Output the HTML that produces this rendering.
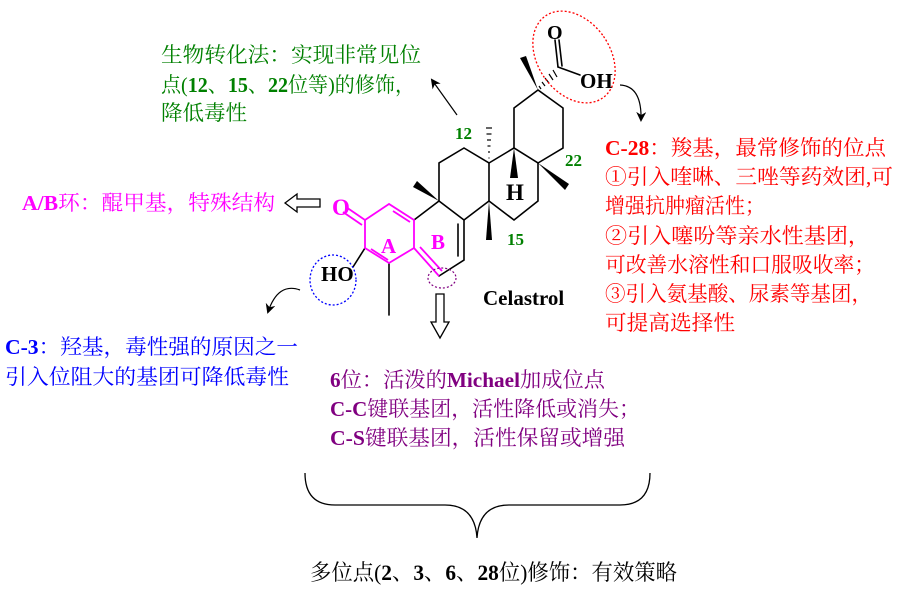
<!DOCTYPE html>
<html><head><meta charset="utf-8"><style>
html,body{margin:0;padding:0;background:#fff;width:900px;height:600px;overflow:hidden}
svg{display:block}
text{font-family:"Liberation Serif","Noto Serif CJK SC",serif}
.m{font-size:21px}
.b{font-weight:bold}
</style></head><body>
<svg width="900" height="600" viewBox="0 0 900 600" xmlns="http://www.w3.org/2000/svg">
<defs>
<marker id="ar" markerWidth="10" markerHeight="10" refX="8" refY="5" orient="auto" markerUnits="userSpaceOnUse"><path d="M0,0 L10,5 L0,10 L3,5 Z" fill="#000"/></marker>
</defs>
<g fill="#008000" class="m">
<text x="161" y="62" textLength="260" lengthAdjust="spacingAndGlyphs">生物转化法：实现非常见位</text>
<text x="161" y="92" textLength="254" lengthAdjust="spacingAndGlyphs">点(<tspan class="b">12</tspan>、<tspan class="b">15</tspan>、<tspan class="b">22</tspan>位等)的修饰，</text>
<text x="161" y="120" textLength="86" lengthAdjust="spacingAndGlyphs">降低毒性</text>
</g>
<line x1="457" y1="115" x2="432" y2="80" stroke="#000" stroke-width="1.2" marker-end="url(#ar)"/>
<text class="m" x="22" y="210" fill="#ff00ff" textLength="253" lengthAdjust="spacingAndGlyphs"><tspan class="b">A/B</tspan>环：醌甲基，特殊结构</text>
<path d="M285,203 L297,194 L297,199 L320,199 L320,207 L297,207 L297,212 Z" fill="#fff" stroke="#000" stroke-width="1.3"/>
<g fill="#0000ff" class="m">
<text x="5" y="354" textLength="293" lengthAdjust="spacingAndGlyphs"><tspan class="b">C-3</tspan>：羟基，毒性强的原因之一</text>
<text x="5" y="384" textLength="284" lengthAdjust="spacingAndGlyphs">引入位阻大的基团可降低毒性</text>
</g>
<path d="M300,290 Q278,282 268,312" fill="none" stroke="#000" stroke-width="1.2" marker-end="url(#ar)"/>
<g fill="#800080" class="m">
<text x="330" y="387" textLength="275" lengthAdjust="spacingAndGlyphs"><tspan class="b">6</tspan>位：活泼的<tspan class="b">Michael</tspan>加成位点</text>
<text x="330" y="416" textLength="310" lengthAdjust="spacingAndGlyphs"><tspan class="b">C-C</tspan>键联基团，活性降低或消失；</text>
<text x="330" y="445" textLength="295" lengthAdjust="spacingAndGlyphs"><tspan class="b">C-S</tspan>键联基团，活性保留或增强</text>
</g>
<path d="M436,294 L444,294 L444,322 L449,322 L440,338 L431,322 L436,322 Z" fill="#fff" stroke="#000" stroke-width="1.3"/>
<g fill="#ff0000" class="m">
<text x="605" y="155" textLength="281" lengthAdjust="spacingAndGlyphs"><tspan class="b">C-28</tspan>：羧基，最常修饰的位点</text>
<text x="605" y="184" textLength="288" lengthAdjust="spacingAndGlyphs">①引入喹啉、三唑等药效团,可</text>
<text x="605" y="213" textLength="160" lengthAdjust="spacingAndGlyphs">增强抗肿瘤活性；</text>
<text x="605" y="243" textLength="265" lengthAdjust="spacingAndGlyphs">②引入噻吩等亲水性基团，</text>
<text x="605" y="272" textLength="270" lengthAdjust="spacingAndGlyphs">可改善水溶性和口服吸收率；</text>
<text x="605" y="301" textLength="267" lengthAdjust="spacingAndGlyphs">③引入氨基酸、尿素等基团，</text>
<text x="605" y="330" textLength="130" lengthAdjust="spacingAndGlyphs">可提高选择性</text>
</g>
<path d="M620,85 Q642,86 641,120" fill="none" stroke="#000" stroke-width="1.2" marker-end="url(#ar)"/>
<path d="M305,473 Q305,505 335,505 L445,505 Q475,505 477,538 Q479,505 509,505 L620,505 Q650,505 650,473" fill="none" stroke="#000" stroke-width="1.3"/>
<text x="310" y="580" fill="#000" style="font-size:22px" textLength="367" lengthAdjust="spacingAndGlyphs">多位点(<tspan class="b">2</tspan>、<tspan class="b">3</tspan>、<tspan class="b">6</tspan>、<tspan class="b">28</tspan>位)修饰：有效策略</text>
<g stroke="#000" stroke-width="1.6" fill="none" stroke-linecap="round">
<path d="M414,220 L439,201 L464,220 L464,260 L439,276"/>
<line x1="458" y1="224" x2="458" y2="256"/>
<path d="M439,201 L439,163 L464,148 L489,163 L489,201 L464,220"/>
<path d="M489,201 L514,220 L538,201 L538,163 L514,148 L489,163"/>
<path d="M514,148 L514,108 L538,90 L563,108 L563,148 L538,163"/>
<line x1="389" y1="263" x2="389" y2="315"/>
<line x1="353" y1="267" x2="365" y2="248"/>
<line x1="580" y1="75" x2="558" y2="67"/>
<line x1="558" y1="67" x2="555" y2="40"/>
<line x1="562" y1="66" x2="559" y2="40"/>
</g>
<g stroke="#ff00ff" stroke-width="1.8" fill="none">
<path d="M389,204 L365,220 L365,248 L389,263 L414,248 L414,220 Z"/>
<line x1="393" y1="211" x2="410" y2="222"/>
<line x1="371" y1="249" x2="388" y2="260"/>
<line x1="365" y1="220" x2="346" y2="207"/>
<line x1="362" y1="225" x2="343" y2="212"/>
<line x1="414" y1="248" x2="439" y2="276"/>
<line x1="417" y1="250" x2="439" y2="274" transform="translate(3,-3)"/>
</g>
<g fill="#000">
<polygon points="439,201 413,187 417,181"/>
<polygon points="489,201 486,240 492,240"/>
<polygon points="514,148 510,178 518,178"/>
<polygon points="538,163 565,190 569,184"/>
<polygon points="538,90 520,58 526,56"/>
</g>
<g stroke="#000" stroke-width="1.2">
<line x1="486" y1="128" x2="492" y2="128"/><line x1="486.5" y1="134" x2="491.5" y2="134"/><line x1="487" y1="140" x2="491" y2="140"/><line x1="487.5" y1="146" x2="490.5" y2="146"/><line x1="488" y1="152" x2="490" y2="152"/><line x1="488.5" y1="158" x2="489.5" y2="158"/>
<line x1="541" y1="89" x2="539" y2="86"/><line x1="545" y1="86" x2="542" y2="82"/><line x1="549" y1="83" x2="545" y2="78"/><line x1="553" y1="80" x2="549" y2="74"/><line x1="557" y1="77" x2="553" y2="70"/>
</g>
<g font-weight="bold">
<text x="332" y="215" fill="#ff00ff" style="font-size:23px">O</text>
<text x="381" y="253" fill="#ff00ff" style="font-size:21px">A</text>
<text x="431" y="249" fill="#ff00ff" style="font-size:21px">B</text>
<text x="321" y="281" fill="#000" style="font-size:21px">HO</text>
<text x="506" y="200" fill="#000" style="font-size:23px">H</text>
<text x="547" y="39" fill="#000" style="font-size:20px">O</text>
<text x="580" y="88" fill="#000" style="font-size:21px">OH</text>
<text x="483" y="305" fill="#000" style="font-size:21px">Celastrol</text>
<text x="455" y="139" fill="#008000" style="font-size:17px">12</text>
<text x="565" y="166" fill="#008000" style="font-size:17px">22</text>
<text x="507" y="245" fill="#008000" style="font-size:17px">15</text>
</g>
<ellipse cx="574" cy="57" rx="36" ry="50" transform="rotate(-35 574 57)" fill="none" stroke="#ff0000" stroke-width="1.3" stroke-dasharray="2,2"/>
<ellipse cx="333" cy="280" rx="23" ry="25" fill="none" stroke="#0000ff" stroke-width="1.3" stroke-dasharray="2,2"/>
<ellipse cx="442" cy="278" rx="14" ry="10" fill="none" stroke="#800080" stroke-width="1.2" stroke-dasharray="2,2"/>
</svg>
</body></html>
